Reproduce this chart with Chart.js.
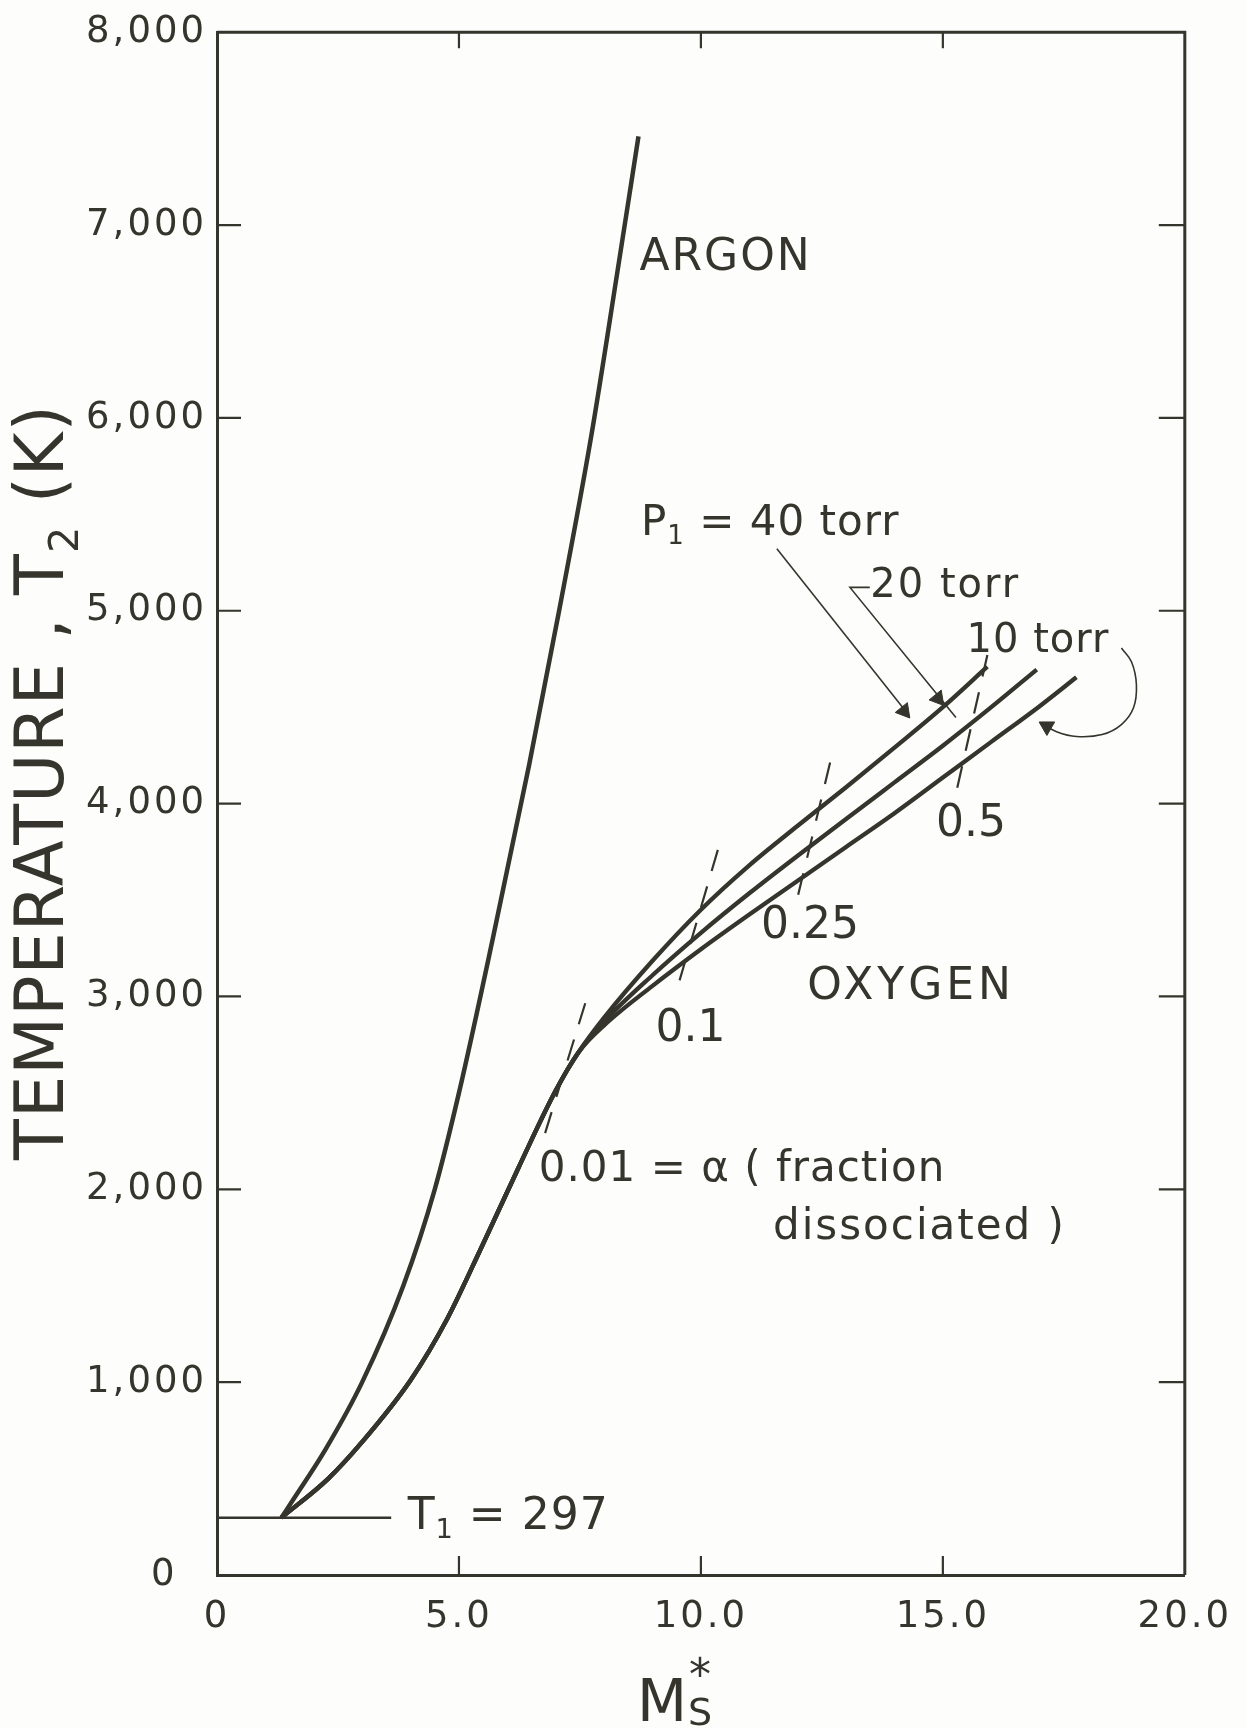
<!DOCTYPE html>
<html>
<head>
<meta charset="utf-8">
<script src="https://cdn.jsdelivr.net/npm/chart.js@4.4.0/dist/chart.umd.min.js"></script>
<style>
  html, body { margin: 0; padding: 0; background: #fdfdfb; }
  canvas { display: block; }
</style>
</head>
<body>
<canvas id="shockChart" width="1246" height="1728"></canvas>
<script>
// shock Mach number M*s vs. temperature behind the shock T2 (K)
var xTickLabels = ["0", "5.0", "10.0", "15.0", "20.0"];

var argonM = [1.33, 1.6, 2.24, 3.0, 3.85, 4.5, 5.0, 5.7, 6.45, 7.07, 7.73, 8.27, 8.71];
var argonT = [297, 400, 650, 1000, 1500, 2000, 2500, 3300, 4200, 5000, 5900, 6750, 7460];

// oxygen, common part before the curves split
var oxygenM = [1.33, 2.3, 3.0, 4.0, 4.75, 5.43, 6.24, 7.0, 7.47];
var oxygenT = [297, 500, 690, 1010, 1325, 1680, 2117, 2512, 2710];

// oxygen after the split, by initial pressure P1
var o2p40M = [8.0, 9.0, 10.0, 11.0, 12.0, 13.0, 14.0, 15.0, 15.92];
var o2p40T = [2890, 3185, 3450, 3680, 3885, 4085, 4290, 4500, 4710];
var o2p20M = [8.0, 9.0, 10.0, 11.0, 12.0, 13.0, 14.0, 15.0, 16.0, 16.94];
var o2p20T = [2870, 3110, 3330, 3535, 3730, 3920, 4110, 4300, 4500, 4695];
var o2p10M = [8.0, 9.0, 10.0, 11.0, 12.0, 13.0, 14.0, 15.0, 16.0, 17.0, 17.76];
var o2p10T = [2850, 3055, 3245, 3425, 3600, 3775, 3950, 4135, 4320, 4505, 4655];

// initial temperature T1
var t1M = [0, 3.6];
var t1T = [297, 297];

// lines of constant fraction dissociated (alpha)
var alpha001M = [7.61, 6.73];
var alpha001T = [2965, 2250];
var alpha01M = [10.35, 9.47];
var alpha01T = [3760, 3007];
var alpha025M = [12.67, 12.0];
var alpha025T = [4213, 3517];
var alpha05M = [15.92, 15.29];
var alpha05T = [4770, 4074];

// leaders from the pressure labels
var lead40M = [11.57, 14.29];
var lead40T = [5322, 4461];
var lead20M = [13.49, 13.08, 15.27];
var lead20T = [5121, 5121, 4446];
var lead10M = [18.69, 18.9, 19.0, 18.94, 18.69, 18.29, 17.76, 17.35, 17.04];
var lead10T = [4807, 4734, 4616, 4497, 4410, 4358, 4348, 4373, 4415];

var ink = '#35352d';
var font = '"DejaVu Sans"';

function pts(xs, ys) {
  return xs.map(function (x, i) { return { x: x, y: ys[i] }; });
}

function curve(xs, ys, w) {
  return {
    data: pts(xs, ys),
    showLine: true,
    borderColor: ink,
    borderWidth: w,
    pointRadius: 0,
    cubicInterpolationMode: 'monotone',
    fill: false
  };
}

// each oxygen curve runs through the common part so the split is smooth
function oxygen(xs, ys) {
  return curve(oxygenM.concat(xs), oxygenT.concat(ys), 4.3);
}

function dashed(xs, ys) {
  var d = curve(xs, ys, 2.2);
  d.borderDash = [22, 16];
  d.cubicInterpolationMode = 'default';
  return d;
}

function leader(xs, ys, tension) {
  var d = curve(xs, ys, 1.6);
  d.cubicInterpolationMode = 'default';
  d.tension = tension || 0;
  return d;
}

function arrow(m, t, rot) {
  return {
    data: [{ x: m, y: t }],
    showLine: false,
    pointStyle: 'triangle',
    pointRadius: 9,
    rotation: rot,
    backgroundColor: ink,
    borderColor: ink,
    borderWidth: 1
  };
}

var labels = [
  { m: 8.73, t: 6828, size: 44, sp: 2, segs: [{ t: 'ARGON' }] },
  { m: 8.76, t: 5451, size: 42, sp: 1, segs: [{ t: 'P' }, { t: '1', sub: true }, { t: ' = 40 torr' }] },
  { m: 13.5, t: 5126, size: 40, sp: 2, segs: [{ t: '20 torr' }] },
  { m: 15.49, t: 4838, size: 40, sp: 1, segs: [{ t: '10 torr' }] },
  { m: 14.86, t: 3889, size: 44, sp: 0, segs: [{ t: '0.5' }] },
  { m: 11.24, t: 3363, size: 44, sp: 0, segs: [{ t: '0.25' }] },
  { m: 12.2, t: 3048, size: 44, sp: 4, segs: [{ t: 'OXYGEN' }] },
  { m: 9.06, t: 2826, size: 44, sp: 0, segs: [{ t: '0.1' }] },
  { m: 6.65, t: 2099, size: 42, sp: 1, segs: [{ t: '0.01 = \u03b1 ( fraction' }] },
  { m: 11.49, t: 1800, size: 42, sp: 2, segs: [{ t: 'dissociated )' }] },
  { m: 3.94, t: 299, size: 44, sp: 1, segs: [{ t: 'T' }, { t: '1', sub: true }, { t: ' = 297' }] }
];

function drawSegs(ctx, segs, x, y, size) {
  segs.forEach(function (s) {
    var sz = s.sub ? size * 0.62 : size;
    ctx.font = sz + 'px ' + font;
    ctx.fillText(s.t, x, y + (s.sub ? size * 0.32 : 0));
    x += ctx.measureText(s.t).width;
  });
  return x;
}

function segsWidth(ctx, segs, size) {
  var w = 0;
  segs.forEach(function (s) {
    ctx.font = (s.sub ? size * 0.62 : size) + 'px ' + font;
    w += ctx.measureText(s.t).width;
  });
  return w;
}

var paperPlugin = {
  id: 'paper',
  beforeDraw: function (chart) {
    var ctx = chart.ctx;
    ctx.save();
    ctx.fillStyle = '#fdfdfb';
    ctx.fillRect(0, 0, chart.width, chart.height);
    ctx.restore();
    // wider spacing for the tick labels, like the hand lettering
    ctx.letterSpacing = '3px';
  },
  afterDraw: function (chart) {
    var ctx = chart.ctx, a = chart.chartArea;
    var xs = chart.scales.x, ys = chart.scales.y;
    ctx.save();
    ctx.strokeStyle = ink;
    ctx.lineWidth = 3;
    ctx.beginPath();
    ctx.moveTo(a.left, a.top);
    ctx.lineTo(a.right, a.top);
    ctx.lineTo(a.right, a.bottom);
    ctx.stroke();

    // inner tick marks on all four sides
    ctx.lineWidth = 2.2;
    ctx.beginPath();
    for (var v = 1000; v < 8000; v += 1000) {
      var py = ys.getPixelForValue(v);
      ctx.moveTo(a.left, py); ctx.lineTo(a.left + 24, py);
      ctx.moveTo(a.right, py); ctx.lineTo(a.right - 26, py);
    }
    for (var m = 5; m < 20; m += 5) {
      var px = xs.getPixelForValue(m);
      ctx.moveTo(px, a.bottom); ctx.lineTo(px, a.bottom - 19);
      ctx.moveTo(px, a.top); ctx.lineTo(px, a.top + 16);
    }
    ctx.stroke();

    // annotations
    ctx.fillStyle = ink;
    ctx.textAlign = 'left';
    ctx.textBaseline = 'middle';
    labels.forEach(function (lab) {
      ctx.letterSpacing = lab.sp + 'px';
      drawSegs(ctx, lab.segs, xs.getPixelForValue(lab.m), ys.getPixelForValue(lab.t), lab.size);
    });

    // y axis title
    ctx.letterSpacing = '1px';
    var ttl = [{ t: 'TEMPERATURE , T' }, { t: '2', sub: true }, { t: ' (K)' }];
    var w = segsWidth(ctx, ttl, 67);
    ctx.save();
    ctx.translate(46, 782);
    ctx.rotate(-Math.PI / 2);
    drawSegs(ctx, ttl, -w / 2, 0, 67);
    ctx.restore();

    // x axis title M*s
    ctx.letterSpacing = '0px';
    ctx.textBaseline = 'alphabetic';
    ctx.font = '58px ' + font;
    ctx.fillText('M', 637, 1721);
    ctx.font = '44px ' + font;
    ctx.fillText('*', 689, 1690);
    ctx.font = '38px ' + font;
    ctx.fillText('S', 688, 1725);
    ctx.restore();
  }
};

var ctx = document.getElementById('shockChart').getContext('2d');
var chart = new Chart(ctx, {
  type: 'scatter',
  data: {
    datasets: [
      curve(argonM, argonT, 4.5),
      oxygen(o2p40M, o2p40T),
      oxygen(o2p20M, o2p20T),
      oxygen(o2p10M, o2p10T),
      curve(t1M, t1T, 2.4),
      dashed(alpha001M, alpha001T),
      dashed(alpha01M, alpha01T),
      dashed(alpha025M, alpha025T),
      dashed(alpha05M, alpha05T),
      leader(lead40M, lead40T),
      leader(lead20M, lead20T),
      leader(lead10M, lead10T, 0.4),
      arrow(14.2, 4480, 141),
      arrow(14.9, 4545, 141),
      arrow(17.15, 4400, -60)
    ]
  },
  options: {
    responsive: false,
    animation: false,
    devicePixelRatio: 1,
    layout: { padding: { top: 24, right: 49, left: 0, bottom: 0 } },
    plugins: { legend: { display: false }, tooltip: { enabled: false } },
    scales: {
      x: {
        type: 'linear',
        min: 0,
        max: 20,
        grid: { display: false, drawTicks: false },
        border: { display: true, color: ink, width: 3 },
        ticks: {
          stepSize: 5,
          autoSkip: false,
          maxRotation: 0,
          padding: 20,
          color: ink,
          font: { family: 'DejaVu Sans', size: 37 },
          callback: function (v) { return xTickLabels[v / 5]; }
        },
        afterFit: function (s) { s.height = 153; }
      },
      y: {
        type: 'linear',
        min: 0,
        max: 8000,
        grid: { display: false, drawTicks: false },
        border: { display: true, color: ink, width: 3 },
        ticks: {
          stepSize: 1000,
          padding: 10,
          color: ink,
          font: { family: 'DejaVu Sans', size: 37 },
          callback: function (v) { return v === 0 ? '0  ' : v.toLocaleString('en-US'); }
        },
        afterFit: function (s) { s.width = 217; }
      }
    }
  },
  plugins: [paperPlugin]
});
</script>
</body>
</html>
